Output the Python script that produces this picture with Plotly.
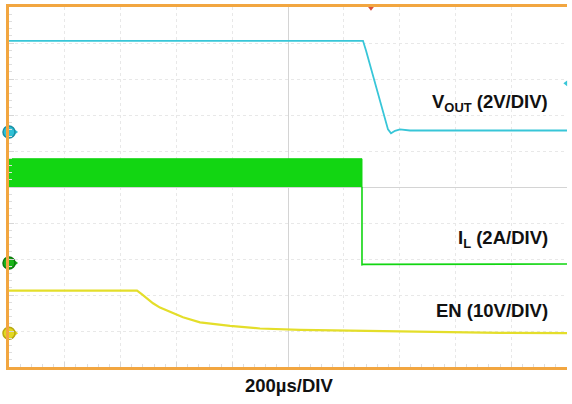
import plotly.graph_objects as go

# Scope screen in divisions: x -5..5 (200us/div), y -5..5
# VOUT (2V/DIV), cyan
vout_x = [-5.0, 1.344, 1.398, 1.559, 1.703, 1.792, 1.846, 1.918, 2.007, 2.186, 5.0]
vout_y = [4.06, 4.06, 3.79, 2.91, 2.09, 1.60, 1.49, 1.56, 1.60, 1.57, 1.57]

# IL (2A/DIV), green: switching band, then step down
il_band_x = [-5.0, 1.326]
il_band_top = [0.785, 0.785]
il_band_bot = [0.014, 0.014]
il_x = [1.326, 1.326, 1.35, 2.6, 5.0]
il_y = [0.014, -2.16, -2.15, -2.14, -2.14]

# EN (10V/DIV), yellow
en_x = [-5.0, -2.706, -2.616, -2.527, -2.419, -2.294, -2.079, -1.882, -1.577, -1.039, -0.502, 0.215, 1.111, 2.366, 3.799, 5.0]
en_y = [-2.88, -2.88, -2.98, -3.10, -3.23, -3.35, -3.50, -3.62, -3.76, -3.86, -3.93, -3.97, -3.99, -4.02, -4.05, -4.06]

# Ground reference markers (channel offsets)
gnd_y = [1.53, -2.11, -4.06]
gnd_colors = ["#2EC0D6", "#18B418", "#E2D820"]
gnd_lines = ["#1A8FA3", "#0E7A0E", "#B8A810"]

# Trigger markers
trig_x = [1.487]
trig_level_y = [2.88]

labels = ["V<sub>OUT</sub> (2V/DIV)", "I<sub>L</sub> (2A/DIV)", "EN (10V/DIV)"]
label_y = [2.33, -1.45, -3.43]
xlabel = "200µs/DIV"

CYAN = "#38C6D8"
GREEN = "#12D612"
YELLOW = "#E4DE2A"
ORANGE = "#F2A640"
FONT = "Liberation Sans, Arial, sans-serif"

fig = go.Figure()

# IL band
fig.add_trace(go.Scatter(
    x=il_band_x + il_band_x[::-1],
    y=il_band_top + il_band_bot[::-1],
    fill="toself", fillcolor=GREEN, mode="lines",
    line=dict(color=GREEN, width=1), hoverinfo="skip", showlegend=False))
fig.add_trace(go.Scatter(x=il_x, y=il_y, mode="lines",
                         line=dict(color=GREEN, width=1.6), showlegend=False))
fig.add_trace(go.Scatter(x=vout_x, y=vout_y, mode="lines",
                         line=dict(color=CYAN, width=1.8), showlegend=False))
fig.add_trace(go.Scatter(x=en_x, y=en_y, mode="lines",
                         line=dict(color=YELLOW, width=2.2), showlegend=False))

# ground markers with pointer
fig.add_trace(go.Scatter(
    x=[-4.9] * 3, y=gnd_y, mode="markers", cliponaxis=False,
    marker=dict(symbol="triangle-right", size=7, color=gnd_colors),
    showlegend=False, hoverinfo="skip"))
fig.add_trace(go.Scatter(
    x=[-5.0] * 3, y=gnd_y, mode="markers", cliponaxis=False,
    marker=dict(symbol="circle", size=12, color=gnd_colors,
                line=dict(color=gnd_lines, width=1.5)),
    showlegend=False, hoverinfo="skip"))
# trigger position (top) and trigger level (right)
fig.add_trace(go.Scatter(
    x=trig_x, y=[4.98], mode="markers", cliponaxis=False,
    marker=dict(symbol="triangle-down", size=6, color="#D8503A"),
    showlegend=False, hoverinfo="skip"))
fig.add_trace(go.Scatter(
    x=[4.98], y=trig_level_y, mode="markers", cliponaxis=False,
    marker=dict(symbol="triangle-left", size=5, color=CYAN),
    showlegend=False, hoverinfo="skip"))

for t, yy in zip(labels, label_y):
    fig.add_annotation(x=4.695, y=yy, text="<b>%s</b>" % t, showarrow=False,
                       xanchor="right", yanchor="middle",
                       font=dict(family=FONT, size=18.5, color="#111111"))
fig.add_annotation(xref="paper", yref="paper", x=0.502, y=-0.052,
                   text="<b>%s</b>" % xlabel, showarrow=False,
                   xanchor="center", yanchor="middle",
                   font=dict(family=FONT, size=18.5, color="#111111"))

axis_common = dict(
    showgrid=True, gridcolor="#E8E8E8", griddash="dot", gridwidth=1,
    zeroline=True, zerolinecolor="#D4D4D4", zerolinewidth=1,
    showticklabels=False, ticks="inside", ticklen=5, tickcolor="#D6D6D6",
    dtick=1, tick0=0,
    minor=dict(ticks="inside", ticklen=3, tickcolor="#DEDEDE", dtick=0.2, showgrid=False),
    showline=True, linecolor=ORANGE, linewidth=2.5, fixedrange=True)

fig.update_xaxes(range=[-5, 5], mirror=True, **axis_common)
fig.update_yaxes(range=[-5, 5], mirror=False, **axis_common)

fig.update_layout(
    width=572, height=404,
    margin=dict(l=9, r=5, t=4, b=37),
    plot_bgcolor="white", paper_bgcolor="white",
    showlegend=False)

fig.write_html("out.html", config={"displayModeBar": False},
               post_script="document.body.style.margin='0px';document.body.style.padding='0px';")
